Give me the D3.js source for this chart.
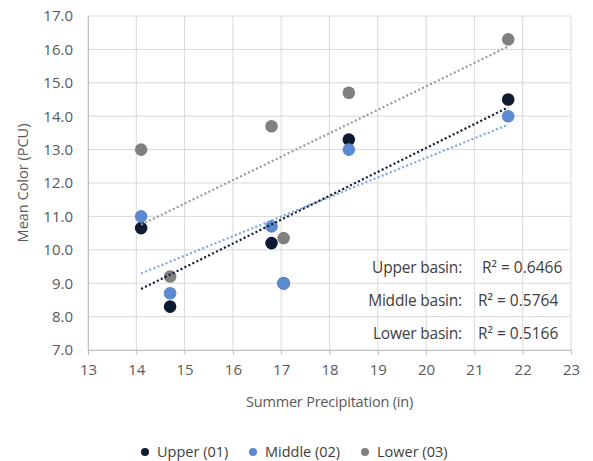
<!DOCTYPE html>
<html><head><meta charset="utf-8">
<script src="https://cdn.jsdelivr.net/npm/d3@7"></script>
<style>body{margin:0;background:#fff;}text{font-family:"Open Sans","Noto Sans",sans-serif;}</style>
</head><body><svg id="c" width="593" height="461"></svg>
<script>
const xTicks = [13,14,15,16,17,18,19,20,21,22,23];
const yTicks = [7,8,9,10,11,12,13,14,15,16,17];
const precip = [14.1, 14.7, 16.8, 17.05, 18.4, 21.7];
const upper  = [10.65, 8.3, 10.2, 9.0, 13.3, 14.5];
const middle = [11.0, 8.7, 10.7, 9.0, 13.0, 14.0];
const lower  = [13.0, 9.2, 13.7, 10.35, 14.7, 16.3];
const seriesNames = ["Upper (01)", "Middle (02)", "Lower (03)"];
const basinLabels = ["Upper basin:", "Middle basin:", "Lower basin:"];
const r2Values = ["0.6466", "0.5764", "0.5166"];

const svg = d3.select("#c");
const m = {l:88, r:22, t:16, b:111};
const W = 593, H = 461;
const x = d3.scaleLinear().domain([13,23]).range([m.l, W-m.r]);
const y = d3.scaleLinear().domain([7,17]).range([H-m.b, m.t]);

// grid
svg.append("g").selectAll("line.v").data(xTicks).join("line")
  .attr("x1",d=>x(d)).attr("x2",d=>x(d)).attr("y1",y(7)).attr("y2",y(17))
  .attr("stroke","#d9d9d9").attr("stroke-width",1);
svg.append("g").selectAll("line.h").data(yTicks).join("line")
  .attr("x1",x(13)).attr("x2",x(23)).attr("y1",d=>y(d)).attr("y2",d=>y(d))
  .attr("stroke","#d9d9d9").attr("stroke-width",1);

// axes
const xa = svg.append("g").attr("transform",`translate(0,${y(7)})`)
  .call(d3.axisBottom(x).tickValues(xTicks).tickSize(5).tickFormat(d3.format("d")));
xa.select(".domain").attr("stroke","#bfbfbf");
xa.selectAll(".tick line").attr("stroke","#bfbfbf");
xa.selectAll("text").attr("fill","#595959").attr("font-size",15).attr("dy","1.15em");
const ya = svg.append("g").attr("transform",`translate(${x(13)},0)`)
  .call(d3.axisLeft(y).tickValues(yTicks).tickSize(0).tickPadding(15).tickFormat(d3.format(".1f")));
ya.select(".domain").attr("stroke","#bfbfbf");
ya.selectAll("text").attr("fill","#595959").attr("font-size",15);

// titles
svg.append("text").attr("x",(x(13)+x(23))/2).attr("y",407).attr("text-anchor","middle")
  .attr("font-size",14.5).attr("fill","#595959").attr("letter-spacing","-0.2").text("Summer Precipitation (in)");
svg.append("text").attr("transform",`translate(28,${(y(7)+y(17))/2}) rotate(-90)`).attr("text-anchor","middle")
  .attr("font-size",14.5).attr("fill","#595959").text("Mean Color (PCU)");

const series = [
  {vals: upper,  dot:"#0e1a30", line:"#0e1a30"},
  {vals: middle, dot:"#5b89d2", line:"#7fa6de"},
  {vals: lower,  dot:"#808080", line:"#9a9a9a"}
];

function fit(xs, ys){
  const mx=d3.mean(xs), my=d3.mean(ys);
  let sxy=0,sxx=0; xs.forEach((v,i)=>{sxy+=(v-mx)*(ys[i]-my); sxx+=(v-mx)*(v-mx);});
  const b=sxy/sxx; return {b, a: my-b*mx};
}

[0,1,2].forEach(si=>{
  const s=series[si];
  svg.append("g").selectAll("circle").data(precip.map((p,i)=>[p,s.vals[i]])).join("circle")
    .attr("cx",d=>x(d[0])).attr("cy",d=>y(d[1])).attr("r",6.3).attr("fill",s.dot);
});

// trendlines
[2,1,0].forEach(si=>{
  const s=series[si]; const f=fit(precip,s.vals);
  const x0=d3.min(precip), x1=d3.max(precip);
  svg.append("line").attr("x1",x(x0)).attr("y1",y(f.a+f.b*x0)).attr("x2",x(x1)).attr("y2",y(f.a+f.b*x1))
    .attr("stroke",s.line).attr("stroke-width",2.2).attr("stroke-dasharray","2,2.4");
});

// R2 annotations
basinLabels.forEach((lab,i)=>{
  const yy=273+i*33;
  svg.append("text").attr("x",462).attr("y",yy).attr("text-anchor","end").attr("font-size",15.5)
    .attr("fill","#404040").attr("letter-spacing","-0.2").text(lab);
  svg.append("text").attr("x",i===0?482:478).attr("y",yy).attr("font-size",15.5).attr("fill","#404040")
    .text("R² = "+r2Values[i]);
});

// legend
const legX=[145,253,365];
seriesNames.forEach((n,i)=>{
  svg.append("circle").attr("cx",legX[i]).attr("cy",452).attr("r",4).attr("fill",series[i].dot);
  svg.append("text").attr("x",legX[i]+12).attr("y",457).attr("font-size",14.5).attr("fill","#404040").text(n);
});
</script></body></html>
